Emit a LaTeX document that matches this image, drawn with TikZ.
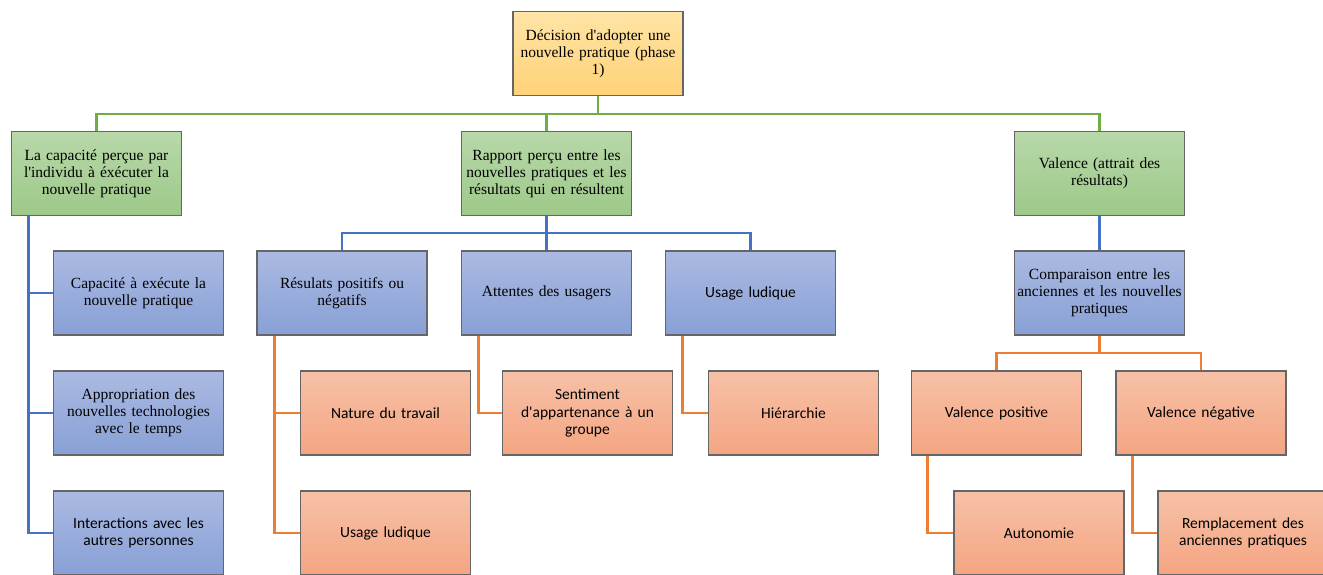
\documentclass[tikz,border=0pt]{standalone}
\usepackage{fontspec}
\usetikzlibrary{backgrounds}
\newfontfamily\tnr{Liberation Serif}
\newfontfamily\calibri{Carlito}
\definecolor{grnln}{HTML}{70AD47}
\definecolor{bluln}{HTML}{4472C4}
\definecolor{orgln}{HTML}{ED7D31}
\definecolor{boxbd}{HTML}{666666}
\tikzset{
  box/.style={draw=boxbd, line width=1.3pt, minimum width=170pt, minimum height=84pt,
    text width=166pt, align=center, inner sep=2pt, font=\tnr\fontsize{15.5}{17}\selectfont},
  topbox/.style={box, top color={rgb,255:red,255;green,228;blue,166}, bottom color={rgb,255:red,255;green,210;blue,120}},
  grnbox/.style={box, top color={rgb,255:red,184;green,216;blue,169}, bottom color={rgb,255:red,157;green,201;blue,137}},
  blubox/.style={box, top color={rgb,255:red,171;green,186;blue,226}, bottom color={rgb,255:red,136;green,160;blue,214}},
  orgbox/.style={box, top color={rgb,255:red,247;green,193;blue,167}, bottom color={rgb,255:red,244;green,165;blue,130},
    font=\calibri\fontsize{15.5}{17.5}\selectfont},
  grn/.style={draw=grnln, line width=2.8pt},
  blu/.style={draw=bluln, line width=2.8pt},
  org/.style={draw=orgln, line width=2.8pt}
}
\begin{document}
\begin{tikzpicture}[x=1pt,y=-1pt]
  \useasboundingbox (0,0) rectangle (1323,574);
  \coordinate (bus) at (598,114);
  \coordinate (busr) at (546.5,233);
  \coordinate (busv) at (1099.5,353);

  \node[topbox] (dec) at (598,53.5) {D\'ecision d'adopter une\\nouvelle pratique (phase\\1)};

  % niveau 1
  \node[grnbox] (cap) at (96.5,173.5) {La capacit\'e per\c{c}ue par\\l'individu \`a \'ex\'ecuter la\\nouvelle pratique};
  \node[grnbox] (rap) at (546.5,173.5) {Rapport per\c{c}u entre les\\nouvelles pratiques et les\\r\'esultats qui en r\'esultent};
  \node[grnbox] (val) at (1099.5,173.5) {Valence (attrait des\\r\'esultats)};

  % sous capacite
  \node[blubox] (cp1) at (138.5,293) {Capacit\'e \`a ex\'ecute la\\nouvelle pratique};
  \node[blubox] (cp2) at (138.5,413) {Appropriation des\\nouvelles technologies\\avec le temps};
  \node[blubox, font=\calibri\fontsize{15.5}{17.5}\selectfont] (cp3) at (138.5,533) {Interactions avec les\\autres personnes};

  % sous rapport
  \node[blubox] (res) at (342,293) {R\'esulats positifs ou\\n\'egatifs};
  \node[blubox] (att) at (546.5,293) {Attentes des usagers};
  \node[blubox, font=\calibri\fontsize{15.5}{17.5}\selectfont] (usg) at (750.5,293) {Usage ludique};
  \node[orgbox] (nat) at (385.5,413) {Nature du travail};
  \node[orgbox] (lud) at (385.5,533) {Usage ludique};
  \node[orgbox] (sen) at (587.5,413) {Sentiment\\d'appartenance \`a un\\groupe};
  \node[orgbox] (hie) at (793.5,413) {Hi\'erarchie};

  % sous valence
  \node[blubox] (cmp) at (1099.5,293) {Comparaison entre les\\anciennes et les nouvelles\\pratiques};
  \node[orgbox] (vpo) at (996.5,413) {Valence positive};
  \node[orgbox] (vne) at (1201,413) {Valence n\'egative};
  \node[orgbox] (aut) at (1039,533) {Autonomie};
  \node[orgbox] (rem) at (1243,533) {Remplacement des\\anciennes pratiques};

  \begin{scope}[on background layer]
  \draw[grn] (dec.south) -- (bus) -| (cap.north);
  \draw[grn] (bus) -| (rap.north);
  \draw[grn] (bus) -| (val.north);

  \draw[blu] ([xshift=18pt]cap.south west) |- (cp1.west);
  \draw[blu] ([xshift=18pt]cap.south west) |- (cp2.west);
  \draw[blu] ([xshift=18pt]cap.south west) |- (cp3.west);

  \draw[blu] (rap.south) -- (busr) -| (res.north);
  \draw[blu] (busr) -- (att.north);
  \draw[blu] (busr) -| (usg.north);

  \draw[org] ([xshift=18pt]res.south west) |- (nat.west);
  \draw[org] ([xshift=18pt]res.south west) |- (lud.west);
  \draw[org] ([xshift=18pt]att.south west) |- (sen.west);
  \draw[org] ([xshift=18pt]usg.south west) |- (hie.west);

  \draw[blu] (val.south) -- (cmp.north);
  \draw[org] (cmp.south) -- (busv) -| (vpo.north);
  \draw[org] (busv) -| (vne.north);
  \draw[org] ([xshift=17pt]vpo.south west) |- (aut.west);
  \draw[org] ([xshift=17pt]vne.south west) |- (rem.west);
  \end{scope}
\end{tikzpicture}
\end{document}
